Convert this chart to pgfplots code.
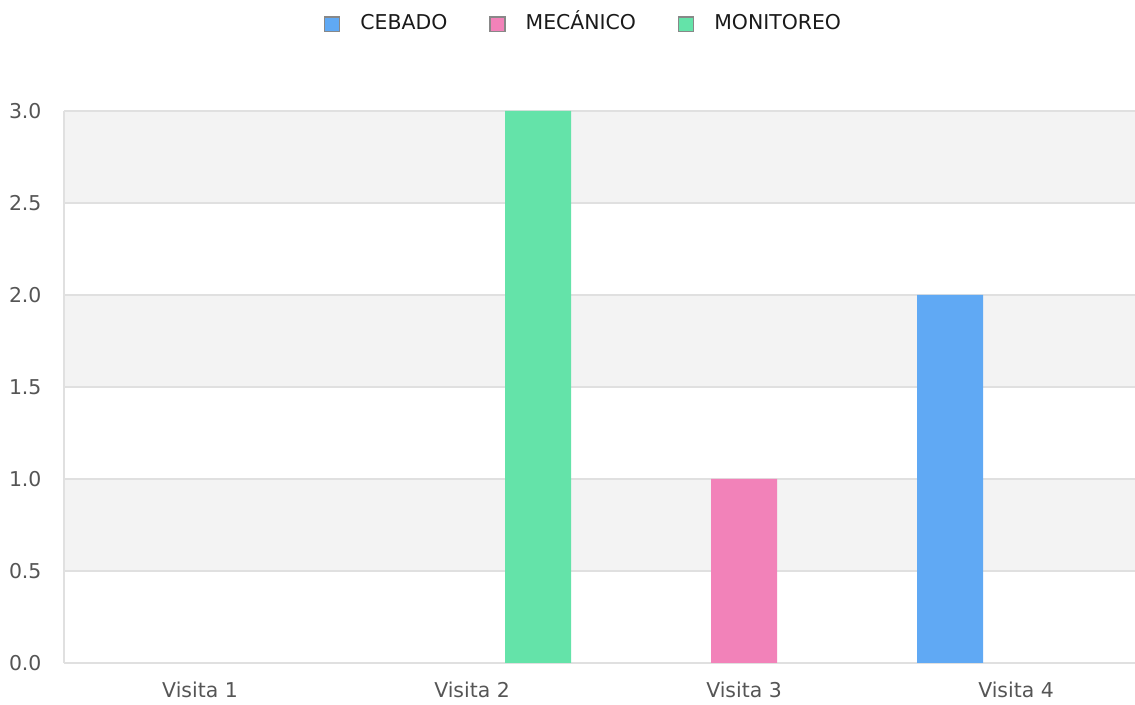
\documentclass[border=0pt]{standalone}
\usepackage{pgfplots}
\pgfplotsset{compat=1.18}
\usepackage{fontspec}
\setmainfont{DejaVu Sans}
\definecolor{cebado}{HTML}{60A9F4}
\definecolor{mecanico}{HTML}{F282B9}
\definecolor{monitoreo}{HTML}{64E3A9}
\definecolor{band}{HTML}{F3F3F3}
\definecolor{gridc}{HTML}{E0E0E0}
\definecolor{ticktext}{HTML}{555555}
\definecolor{legtext}{HTML}{1A1A1A}
\definecolor{legborder}{HTML}{888888}
\begin{document}
\begin{tikzpicture}
\begin{axis}[
  set layers,
  at={(0,0)}, anchor=south west,
  scale only axis, width=1071bp, height=552bp,
  xmin=-0.5, xmax=3.4375, ymin=0, ymax=3,
  axis x line*=bottom, axis y line*=left,
  axis line style={draw=gridc, line width=1.3bp, -},
  xtick={0,1,2,3}, xticklabels={Visita 1,Visita 2,Visita 3,Visita 4},
  ytick={0,0.5,1,1.5,2,2.5,3},
  ymajorgrids, grid style={draw=gridc, line width=1.3bp},
  major tick length=0pt,
  /pgf/number format/assume math mode=true,
  /pgf/number format/fixed, /pgf/number format/fixed zerofill, /pgf/number format/precision=1,
  ticklabel style={font=\fontsize{20.5}{24}\selectfont, text=ticktext},
  xticklabel style={yshift=-15bp},
  yticklabel style={xshift=-19bp},
  legend style={at={(0.4851,1.1574)}, anchor=center, draw=none, fill=none,
    legend columns=-1, font=\fontsize{20.5}{24}\selectfont, text=legtext,
    nodes={text height=15bp, text depth=4bp},
    /tikz/every odd column/.append style={column sep=18bp},
    /tikz/every even column/.append style={column sep=40bp}},
  legend image code/.code={\draw[#1, draw=legborder, line width=1.3bp] (-1bp,-7.5bp) rectangle (14bp,7bp);},
]
\addplot[on layer=axis background, fill=band, draw=none, forget plot] coordinates {(-0.5,2.5) (3.4375,2.5) (3.4375,3) (-0.5,3)} -- cycle;
\addplot[on layer=axis background, fill=band, draw=none, forget plot] coordinates {(-0.5,1.5) (3.4375,1.5) (3.4375,2) (-0.5,2)} -- cycle;
\addplot[on layer=axis background, fill=band, draw=none, forget plot] coordinates {(-0.5,0.5) (3.4375,0.5) (3.4375,1) (-0.5,1)} -- cycle;
\addplot[ybar, bar width=66bp, bar shift=-66bp, fill=cebado, draw=none] coordinates {(0,0) (1,0) (2,0) (3,2)};
\addplot[ybar, bar width=66bp, bar shift=0bp, fill=mecanico, draw=none] coordinates {(0,0) (1,0) (2,1) (3,0)};
\addplot[ybar, bar width=66bp, bar shift=66bp, fill=monitoreo, draw=none] coordinates {(0,0) (1,3) (2,0) (3,0)};
\legend{CEBADO, MECÁNICO, MONITOREO}
\end{axis}
\pgfresetboundingbox
\useasboundingbox (-64bp,-42bp) rectangle (1071bp,663bp);
\end{tikzpicture}
\end{document}
